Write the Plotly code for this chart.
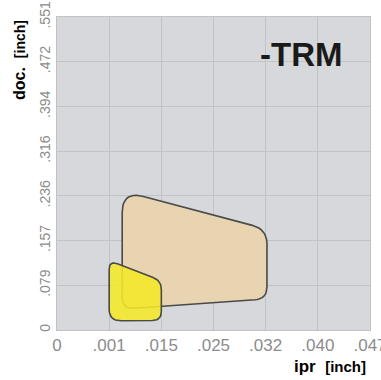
import numpy as np
import plotly.graph_objects as go

# ---- data ----
ipr_ticks = [0, 0.001, 0.015, 0.025, 0.032, 0.040, 0.047]
ipr_labels = ["0", ".001", ".015", ".025", ".032", ".040", ".047"]
doc_ticks = [0, 0.079, 0.157, 0.236, 0.316, 0.394, 0.472, 0.551]
doc_labels = ["0", ".079", ".157", ".236", ".316", ".394", ".472", ".551"]

# corner points of the application areas (inch)
tan_ipr = [0.0045, 0.0322, 0.0322, 0.0045]
tan_doc = [0.245, 0.177, 0.055, 0.037]
yel_ipr = [0.001, 0.015, 0.015, 0.001]
yel_doc = [0.122, 0.087, 0.017, 0.016]

# ---- styling ----
tan_radii = [0.42, 0.29, 0.23, 0.23]
yel_radii = [0.17, 0.17, 0.17, 0.23]
ASPECT = 44.57 / 52.0  # px per y-step / px per x-step


def to_idx(ipr, doc):
    xi = np.interp(ipr, ipr_ticks, np.arange(len(ipr_ticks)))
    yi = np.interp(doc, doc_ticks, np.arange(len(doc_ticks)))
    return np.asarray(xi, float), np.asarray(yi, float)


def rounded(ipr, doc, radii, n=12):
    xi, yi = to_idx(ipr, doc)
    pts = np.column_stack([xi, yi * ASPECT])
    m = len(pts)
    out = []
    for i in range(m):
        p = pts[i]
        a = pts[i - 1]
        b = pts[(i + 1) % m]
        r = radii[i]
        da = (a - p) / np.linalg.norm(a - p)
        db = (b - p) / np.linalg.norm(b - p)
        p1 = p + r * da
        p2 = p + r * db
        for t in np.linspace(0, 1, n):
            q = (1 - t) ** 2 * p1 + 2 * (1 - t) * t * p + t ** 2 * p2
            out.append(q)
    out.append(out[0])
    out = np.array(out)
    return out[:, 0], out[:, 1] / ASPECT


fig = go.Figure()
tx, ty = rounded(tan_ipr, tan_doc, tan_radii)
fig.add_trace(go.Scatter(x=tx, y=ty, mode="lines", fill="toself",
                         fillcolor="#e8d4b0",
                         line=dict(color="#4a4a4a", width=1.6),
                         hoverinfo="skip", showlegend=False))
yx, yy = rounded(yel_ipr, yel_doc, yel_radii)
fig.add_trace(go.Scatter(x=yx, y=yy, mode="lines", fill="toself",
                         fillcolor="rgba(245,232,40,0.88)",
                         line=dict(color="#4a4a4a", width=1.6),
                         hoverinfo="skip", showlegend=False))

font_family = "Liberation Sans, Arial, sans-serif"
axis_common = dict(showgrid=True, gridcolor="#c2c3c6", gridwidth=1,
                   zeroline=False, showline=True, linecolor="#c2c3c6",
                   mirror=True, ticks="", automargin=False,
                   ticklabeloverflow="allow", fixedrange=True)

fig.update_layout(
    width=381, height=380,
    margin=dict(l=57, r=11, t=17, b=50, autoexpand=False),
    paper_bgcolor="white", plot_bgcolor="#d7d8db",
    xaxis=dict(range=[0, len(ipr_ticks) - 1],
               tickvals=list(range(len(ipr_ticks))), ticktext=ipr_labels,
               tickfont=dict(family=font_family, size=17, color="#8c8c8c"),
               **axis_common),
    yaxis=dict(range=[0, len(doc_ticks) - 1],
               tickvals=list(range(len(doc_ticks))), ticktext=doc_labels,
               tickangle=-90,
               tickfont=dict(family=font_family, size=14, color="#8c8c8c"),
               **axis_common),
    annotations=[
        dict(text="<b>-TRM</b>", xref="paper", yref="paper", x=0.78, y=0.879,
             showarrow=False, font=dict(family=font_family, size=33, color="#1a1a1a"),
             xanchor="center", yanchor="middle"),
        dict(text="<b>doc.</b>  <b><span style='font-size:14px'>[inch]</span></b>",
             xref="paper", yref="paper", x=-0.118, y=0.863, textangle=-90,
             showarrow=False, font=dict(family=font_family, size=16, color="black"),
             xanchor="center", yanchor="middle"),
        dict(text="<b>ipr</b>  <b><span style='font-size:15px'>[inch]</span></b>",
             xref="paper", yref="paper", x=0.872, y=-0.118,
             showarrow=False, font=dict(family=font_family, size=17, color="black"),
             xanchor="center", yanchor="middle"),
    ],
)

fig.write_html("out.html", config={"displayModeBar": False},
               post_script="document.body.style.margin='0';")
